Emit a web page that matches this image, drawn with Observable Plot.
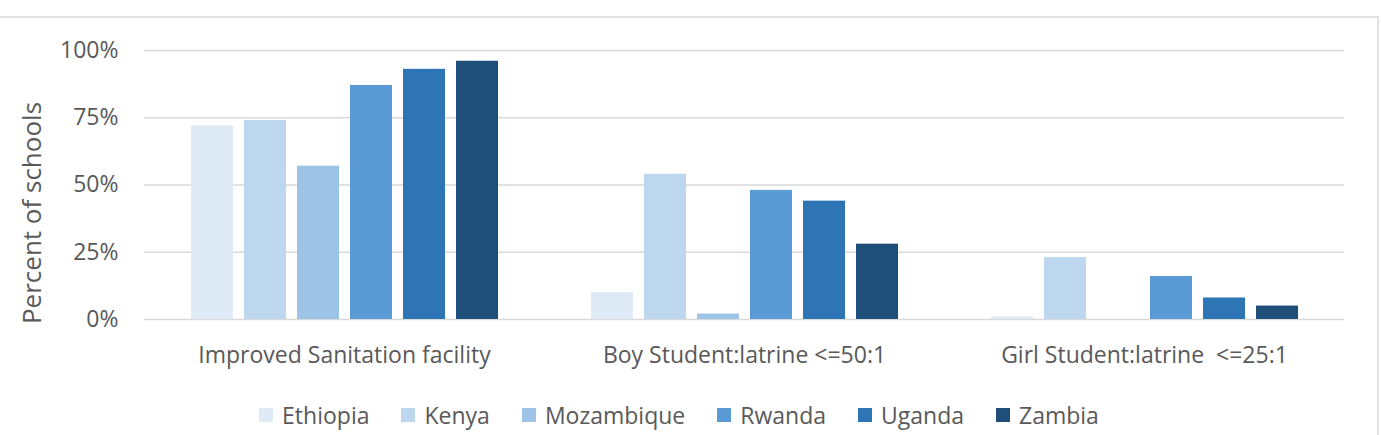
<!DOCTYPE html>
<html>
<head>
<meta charset="utf-8">
<script src="https://cdn.jsdelivr.net/npm/d3@7"></script>
<script src="https://cdn.jsdelivr.net/npm/@observablehq/plot@0.6"></script>
<style>
  body { margin: 0; background: #fff; font-family: "Open Sans", sans-serif; }
  #chart { position: relative; width: 1381px; height: 435px; overflow: hidden; }
  #frame { position: absolute; left: -3px; top: 16px; width: 1382px; height: 440px; box-sizing: border-box; border: 2px solid #e2e2e2; }
  #plot { position: absolute; left: 0; top: 0; }
  #plot svg text { white-space: pre; }
  #ytitle { position: absolute; left: 31px; top: 213px; transform: translate(-50%, -50%) rotate(-90deg);
            font-size: 26px; color: #595959; white-space: nowrap; }
  #legend { position: absolute; left: 0; top: 398px; width: 1381px; box-sizing: border-box; padding-right: 23px; }
  #legend .lg-swatches { font-family: "Open Sans", sans-serif !important; font-size: 23px !important; color: #595959 !important; margin: 0 !important; }
  #legend .lg-swatches-wrap { justify-content: center; gap: 0 32px; margin: 0 !important; }
  #legend .lg-swatch { margin-right: 0 !important; }
  #legend .lg-swatch > svg { margin-right: 9px !important; }
</style>
</head>
<body>
<div id="chart">
  <div id="frame"></div>
  <div id="plot"></div>
  <div id="ytitle">Percent of schools</div>
  <div id="legend"></div>
</div>
<script>
// Share of schools meeting each sanitation indicator, by country (%)
const groups = ["Improved Sanitation facility", "Boy Student:latrine <=50:1", "Girl Student:latrine  <=25:1"];
const countries = ["Ethiopia", "Kenya", "Mozambique", "Rwanda", "Uganda", "Zambia"];
const improvedSanitation = [72, 74, 57, 87, 93, 96];
const boyLatrineRatio = [10, 54, 2, 48, 44, 28];
const girlLatrineRatio = [1, 23, 0, 16, 8, 5];
const countryColors = ["#deebf7", "#bdd7ee", "#9dc3e6", "#5b9bd5", "#2e75b6", "#1f4e79"];
const yTicks = [0, 25, 50, 75, 100];

const series = [improvedSanitation, boyLatrineRatio, girlLatrineRatio];
const rows = groups.flatMap((group, g) =>
  countries.map((country, c) => ({group, country, value: series[g][c]}))
);

const chart = Plot.plot({
  width: 1381,
  height: 380,
  marginTop: 50,
  marginBottom: 61,
  marginLeft: 143,
  marginRight: 36,
  style: {fontFamily: "Open Sans, sans-serif", fontSize: "23px", color: "#595959", background: "transparent"},
  fx: {domain: groups, padding: 0, label: null, axis: "bottom", tickSize: 0, tickPadding: 27},
  x: {domain: countries, axis: null, paddingInner: 0.21, paddingOuter: 0.86},
  y: {domain: [0, 100], ticks: yTicks, tickFormat: d => d + "%", tickSize: 0, tickPadding: 26, label: null},
  color: {domain: countries, range: countryColors},
  marks: [
    Plot.gridY(yTicks, {stroke: "#d9d9d9", strokeOpacity: 1, strokeWidth: 1.3}),
    Plot.barY(rows, {fx: "group", x: "country", y: "value", fill: "country"})
  ]
});
document.getElementById("plot").append(chart);

const legend = Plot.legend({
  color: {type: "ordinal", domain: countries, range: countryColors},
  legend: "swatches",
  swatchSize: 14,
  className: "lg"
});
document.getElementById("legend").append(legend);
</script>
</body>
</html>
